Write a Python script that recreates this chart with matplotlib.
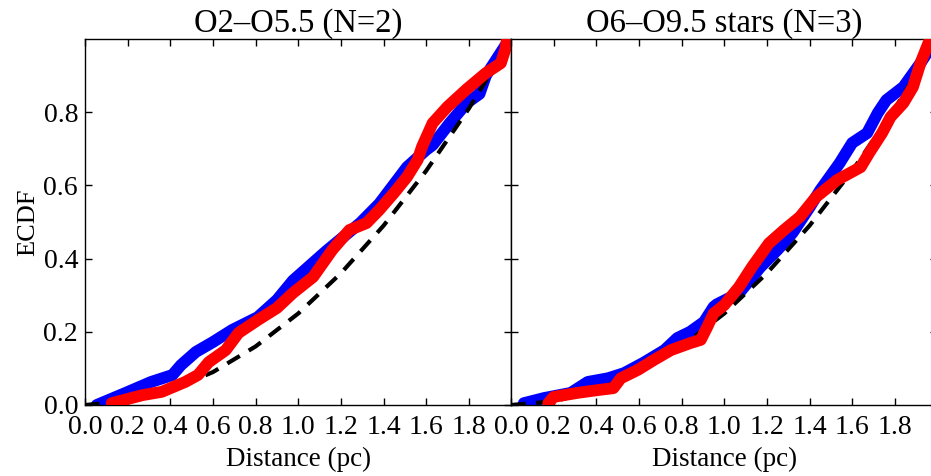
import matplotlib
matplotlib.use("Agg")
import matplotlib.pyplot as plt

plt.rcParams['font.family'] = ['Liberation Serif', 'DejaVu Serif']
plt.rcParams['mathtext.fontset'] = 'stix'

# ---------------- data ----------------
titles = ["O2\u2013O5.5 (N=2)", "O6\u2013O9.5 stars (N=3)"]
x_label = "Distance (pc)"
y_label = "ECDF"
xtick_vals = [0.0, 0.2, 0.4, 0.6, 0.8, 1.0, 1.2, 1.4, 1.6, 1.8]
ytick_vals = [0.0, 0.2, 0.4, 0.6, 0.8]

# left panel, blue ECDF
left_blue_x = [0.055, 0.19, 0.31, 0.41, 0.45, 0.52, 0.60, 0.69, 0.81, 0.90, 0.975,
               1.13, 1.29, 1.38, 1.51, 1.60, 1.63, 1.71, 1.79, 1.85, 1.88, 1.93, 1.98, 1.99]
left_blue_y = [0.0, 0.033, 0.063, 0.082, 0.109, 0.145, 0.172, 0.205, 0.240, 0.287, 0.34,
               0.42, 0.497, 0.55, 0.65, 0.697, 0.71, 0.77, 0.825, 0.85, 0.90, 0.945, 0.99, 1.0]
# left panel, red ECDF
left_red_x = [0.125, 0.27, 0.36, 0.47, 0.53, 0.58, 0.66, 0.72, 0.81, 0.90, 0.975,
              1.07, 1.16, 1.24, 1.32, 1.38, 1.45, 1.51, 1.56, 1.58, 1.63, 1.70,
              1.79, 1.88, 1.95, 1.97, 1.98]
left_red_y = [0.005, 0.027, 0.036, 0.063, 0.082, 0.117, 0.15, 0.197, 0.232, 0.265, 0.306,
              0.35, 0.424, 0.478, 0.497, 0.533, 0.58, 0.623, 0.67, 0.705, 0.77, 0.815,
              0.863, 0.907, 0.934, 0.97, 1.0]
# right panel, blue ECDF
right_blue_x = [0.06, 0.155, 0.28, 0.36, 0.455, 0.53, 0.62, 0.72, 0.78, 0.84, 0.905,
                0.95, 0.965, 1.07, 1.17, 1.25, 1.32, 1.40, 1.45, 1.54, 1.60, 1.67,
                1.72, 1.76, 1.84, 1.92, 1.96, 2.0]
right_blue_y = [0.005, 0.019, 0.033, 0.063, 0.073, 0.087, 0.115, 0.15, 0.183, 0.20, 0.227,
                0.268, 0.275, 0.306, 0.377, 0.424, 0.47, 0.54, 0.587, 0.66, 0.716, 0.743,
                0.798, 0.833, 0.869, 0.934, 0.97, 1.0]
# right panel, red ECDF
right_red_x = [0.175, 0.20, 0.31, 0.41, 0.48, 0.515, 0.595, 0.67, 0.75, 0.84, 0.89,
               0.92, 0.95, 1.0, 1.07, 1.13, 1.21, 1.28, 1.355, 1.43, 1.53, 1.64,
               1.68, 1.74, 1.78, 1.84, 1.885, 1.92, 1.95, 1.965]
right_red_y = [0.005, 0.022, 0.033, 0.041, 0.046, 0.073, 0.096, 0.123, 0.15, 0.169, 0.178,
               0.213, 0.25, 0.273, 0.323, 0.377, 0.442, 0.478, 0.514, 0.568, 0.615, 0.65,
               0.689, 0.743, 0.787, 0.825, 0.869, 0.934, 0.978, 1.0]
# model curve (dashed), same in both panels
model_x = [0.0, 0.2, 0.4, 0.6, 0.8, 1.0, 1.2, 1.4, 1.6, 1.8, 2.0]
model_y = [0.0, 0.01, 0.04, 0.09, 0.16, 0.25, 0.36, 0.49, 0.64, 0.81, 1.0]

panels = [
    (left_blue_x, left_blue_y, left_red_x, left_red_y),
    (right_blue_x, right_blue_y, right_red_x, right_red_y),
]

# ---------------- figure ----------------
W, H = 931, 476
fig = plt.figure(figsize=(W / 100, H / 100), dpi=100)
ax_w = 426.5 / W
ax_h = 366 / H
bottom = (H - 405) / H
lefts = [85 / W, 511 / W]

for i, (bx, by, rx, ry) in enumerate(panels):
    ax = fig.add_axes([lefts[i], bottom, ax_w, ax_h])
    ax.plot(bx, by, color='#0000ff', lw=8.5, solid_joinstyle='round',
            solid_capstyle='round', zorder=2)
    ax.plot(model_x, model_y, color='black', lw=3, ls=(0, (3.5, 2.5)), zorder=3)
    ax.plot(rx, ry, color='#ff0000', lw=8.5, solid_joinstyle='round',
            solid_capstyle='round', zorder=4)
    ax.set_xlim(0, 2.0)
    ax.set_ylim(0, 1.0)
    ax.set_xticks(xtick_vals)
    ax.set_xticklabels([f"{v:.1f}" for v in xtick_vals])
    ax.set_yticks(ytick_vals)
    if i == 0:
        ax.set_yticklabels([f"{v:.1f}" for v in ytick_vals])
        ax.set_ylabel(y_label, fontsize=19, labelpad=3)
    else:
        ax.set_yticklabels([])
    ax.tick_params(direction='in', top=True, right=True, length=5, width=1,
                   labelsize=20)
    ax.tick_params(axis='y', pad=5)
    ax.tick_params(axis='x', pad=7)
    ax.set_xlabel(x_label, fontsize=19.5, labelpad=5)
    ax.set_title(titles[i], fontsize=23.5, pad=5)
    for s in ax.spines.values():
        s.set_linewidth(1.0)

fig.savefig("out.png", dpi=100)
